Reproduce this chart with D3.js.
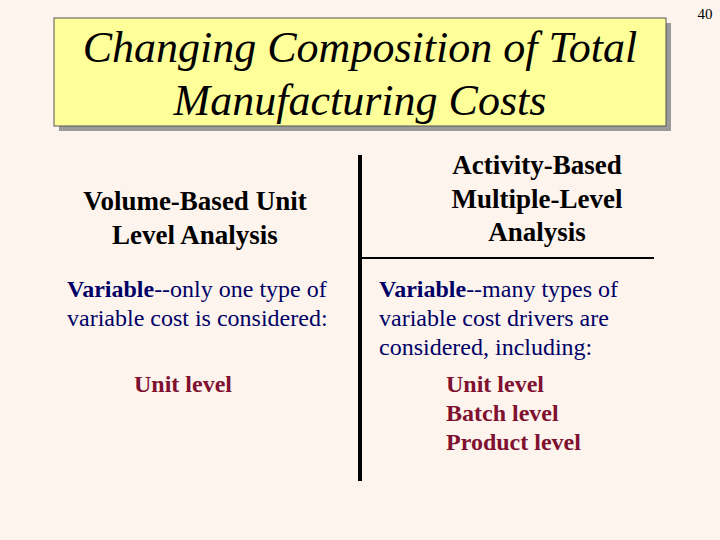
<!DOCTYPE html>
<html>
<head>
<meta charset="utf-8">
<script src="https://cdn.jsdelivr.net/npm/d3@7"></script>
<style>
  body { margin: 0; background: #fdf4ee; }
  text { font-family: "Liberation Serif", "Times New Roman", serif; }
</style>
</head>
<body>
<svg width="720" height="540"></svg>
<script>
const titleLines = ["Changing Composition of Total", "Manufacturing Costs"];
const leftHeader = ["Volume-Based Unit", "Level Analysis"];
const rightHeader = ["Activity-Based", "Multiple-Level", "Analysis"];
const leftBody = [["Variable", "--only one type of"], ["", "variable cost is considered:"]];
const rightBody = [["Variable", "--many types of"], ["", "variable cost drivers are"], ["", "considered, including:"]];
const leftLevels = ["Unit level"];
const rightLevels = ["Unit level", "Batch level", "Product level"];
const pageNumber = "40";

const svg = d3.select("svg");
const lineY = i => 297 + i * 29;

svg.append("rect").attr("width", 720).attr("height", 540).attr("fill", "#fdf4ee");

// title box with shadow
svg.append("rect").attr("x", 59).attr("y", 23).attr("width", 612).attr("height", 108).attr("fill", "#9a9a9a");
svg.append("rect").attr("x", 54).attr("y", 18).attr("width", 612).attr("height", 108)
  .attr("fill", "#ffff99").attr("stroke", "#555").attr("stroke-width", 1);
svg.selectAll("text.title").data(titleLines).join("text")
  .attr("class", "title")
  .attr("x", 360).attr("y", (d, i) => 62 + i * 53)
  .attr("text-anchor", "middle").attr("font-size", 44).attr("font-style", "italic")
  .text(d => d);

svg.append("text").attr("x", 705).attr("y", 19).attr("text-anchor", "middle")
  .attr("font-size", 15).text(pageNumber);

// divider lines
svg.append("line").attr("x1", 360).attr("x2", 360).attr("y1", 155).attr("y2", 481)
  .attr("stroke", "#000").attr("stroke-width", 4);
svg.append("line").attr("x1", 362).attr("x2", 654).attr("y1", 258).attr("y2", 258)
  .attr("stroke", "#000").attr("stroke-width", 2);

// headers
svg.selectAll("text.lh").data(leftHeader).join("text")
  .attr("class", "lh").attr("x", 195).attr("y", (d, i) => 210 + i * 34)
  .attr("text-anchor", "middle").attr("font-size", 27).attr("font-weight", "bold").text(d => d);
svg.selectAll("text.rh").data(rightHeader).join("text")
  .attr("class", "rh").attr("x", 537).attr("y", (d, i) => 174 + i * 33.5)
  .attr("text-anchor", "middle").attr("font-size", 27).attr("font-weight", "bold").text(d => d);

// body
function body(cls, data, x) {
  const t = svg.selectAll("text." + cls).data(data).join("text")
    .attr("class", cls).attr("x", x).attr("y", (d, i) => lineY(i))
    .attr("font-size", 24).attr("fill", "#000066");
  t.append("tspan").attr("font-weight", "bold").text(d => d[0]);
  t.append("tspan").text(d => d[1]);
}
body("lb", leftBody, 67);
body("rb", rightBody, 379);

function levels(cls, data, x) {
  svg.selectAll("text." + cls).data(data).join("text")
    .attr("class", cls).attr("x", x).attr("y", (d, i) => 392 + i * 29)
    .attr("font-size", 24).attr("font-weight", "bold").attr("fill", "#7f1030").text(d => d);
}
levels("ll", leftLevels, 134);
levels("rl", rightLevels, 446);
</script>
</body>
</html>
